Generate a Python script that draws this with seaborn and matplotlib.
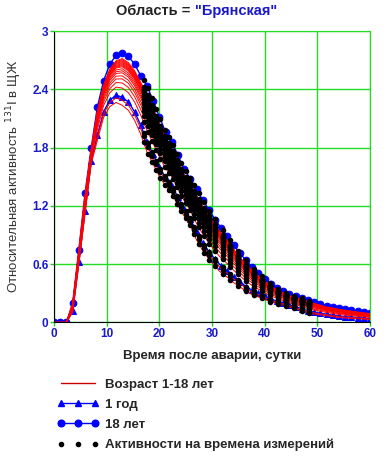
import numpy as np
import pandas as pd
import seaborn as sns
import matplotlib.pyplot as plt
from matplotlib.lines import Line2D

sns.set_style("white")
plt.rcParams["font.family"] = ["Liberation Sans", "DejaVu Sans"]

# model time grid (days after the accident)
days = np.linspace(0, 60, 52)

# 1-year-old curve (triangles)
act_1yr = [0, 0, 0, 0.12, 0.62, 1.15, 1.66, 1.93, 2.17, 2.29, 2.34, 2.32, 2.27,
           2.17, 2.03, 1.86, 1.73, 1.60, 1.49, 1.41, 1.29, 1.17, 1.07, 0.93, 0.82,
           0.73, 0.65, 0.58, 0.53, 0.47, 0.42, 0.37, 0.33, 0.30, 0.27, 0.24, 0.22,
           0.20, 0.18, 0.16, 0.14, 0.12, 0.105, 0.095, 0.085, 0.075, 0.065, 0.06,
           0.055, 0.05, 0.045, 0.04]

# 18-year-old curve (circles)
act_18yr = [0, 0, 0, 0.20, 0.75, 1.33, 1.80, 2.22, 2.49, 2.66, 2.75, 2.78, 2.74,
            2.66, 2.54, 2.44, 2.28, 2.12, 1.96, 1.86, 1.72, 1.58, 1.48, 1.37, 1.26,
            1.16, 1.06, 0.97, 0.89, 0.80, 0.71, 0.64, 0.57, 0.51, 0.45, 0.40, 0.35,
            0.32, 0.29, 0.27, 0.25, 0.23, 0.21, 0.19, 0.17, 0.16, 0.145, 0.135,
            0.125, 0.115, 0.105, 0.10]

# peak of each red curve, ages 1..18
ages = list(range(1, 19))
red_peaks = [2.26, 2.31, 2.43, 2.48, 2.52, 2.55, 2.58, 2.60, 2.62, 2.64, 2.65,
             2.66, 2.67, 2.68, 2.69, 2.70, 2.71, 2.72]

# measurement times
meas_days = [17, 17.8, 18.6, 19.4, 20.2, 21, 21.8, 22.6, 23.4, 24.2, 25, 25.8,
             26.6, 27.5, 28.5, 29.5, 30.5, 32, 33.5, 35, 36.5, 38, 39.5, 41,
             42.5, 44, 45.5, 47, 48.5]

lo = np.array(act_1yr)
hi = np.array(act_18yr)
p_lo, p_hi = max(act_1yr), max(act_18yr)

rows = []
dots = []
for age, pk in zip(ages, red_peaks):
    w = (pk - p_lo) / (p_hi - p_lo)
    curve = lo + w * (hi - lo)
    for d, v in zip(days, curve):
        rows.append({"day": d, "act": v, "age": age})
    for d in meas_days:
        dots.append({"day": d, "act": np.interp(d, days, curve)})
for curve in (lo, hi):
    for d in meas_days:
        dots.append({"day": d, "act": np.interp(d, days, curve)})

df_red = pd.DataFrame(rows)
df_dots = pd.DataFrame(dots)
df_1 = pd.DataFrame({"day": days, "act": act_1yr})
df_18 = pd.DataFrame({"day": days, "act": act_18yr})

fig = plt.figure(figsize=(3.89, 4.58), dpi=100)
ax = fig.add_axes([0.139, 0.296, 0.812, 0.636])

blue = "#0000ff"
sns.lineplot(data=df_1, x="day", y="act", color=blue, lw=1, marker="^",
             markersize=4.5, markeredgecolor=blue, ax=ax)
sns.lineplot(data=df_18, x="day", y="act", color=blue, lw=1, marker="o",
             markersize=4.8, markeredgecolor=blue, ax=ax)
sns.lineplot(data=df_red, x="day", y="act", hue="age", palette=["#ff0000"] * 18,
             lw=0.7, legend=False, ax=ax)
sns.scatterplot(data=df_dots, x="day", y="act", color="black", s=16,
                edgecolor="black", linewidth=0, ax=ax, zorder=5)

ax.set_xlim(0, 60)
ax.set_ylim(0, 3)
ax.set_xticks(range(0, 61, 10))
ax.set_yticks([0, 0.6, 1.2, 1.8, 2.4, 3])
ax.set_yticklabels(["0", "0.6", "1.2", "1.8", "2.4", "3"])
ax.grid(True, color="#22dd22", lw=1)
ax.tick_params(colors="#22cc22", labelcolor="#1a1acc", length=3, width=1,
               labelsize=8.5, left=True, bottom=True, pad=1)
for lab in ax.get_xticklabels() + ax.get_yticklabels():
    lab.set_fontweight("bold")
for side in ("top", "right"):
    ax.spines[side].set_color("#22dd22")
for side in ("left", "bottom"):
    ax.spines[side].set_color("black")

ax.set_xlabel("Время после аварии, сутки", fontsize=9.5, fontweight="bold", labelpad=7)
ax.set_ylabel(r"Относительная активность $^{131}$I в ЩЖ", fontsize=9.5,
              color="#333333", labelpad=6)

fig.text(0.5, 0.977, "Область = ", ha="right", va="center", fontsize=10.5,
         fontweight="bold", color="#222222")
fig.text(0.502, 0.977, "\"Брянская\"", ha="left", va="center", fontsize=10.5,
         fontweight="bold", color="#1a1acc")

handles = [
    Line2D([], [], color="#cc0000", lw=1),
    Line2D([], [], color=blue, lw=1, marker="^", markersize=4.5),
    Line2D([], [], color=blue, lw=1, marker="o", markersize=4.8),
    Line2D([], [], color="black", lw=0, marker="o", markersize=3),
]
labels = ["Возраст 1-18 лет", "1 год", "18 лет", "Активности на времена измерений"]
leg = fig.legend(handles, labels, loc="upper left", bbox_to_anchor=(0.115, 0.2),
                 frameon=False, numpoints=3, handlelength=3.2, handletextpad=0.45,
                 labelspacing=0.6, prop={"weight": "bold", "size": 9.5})

plt.savefig("out.png", dpi=100)
